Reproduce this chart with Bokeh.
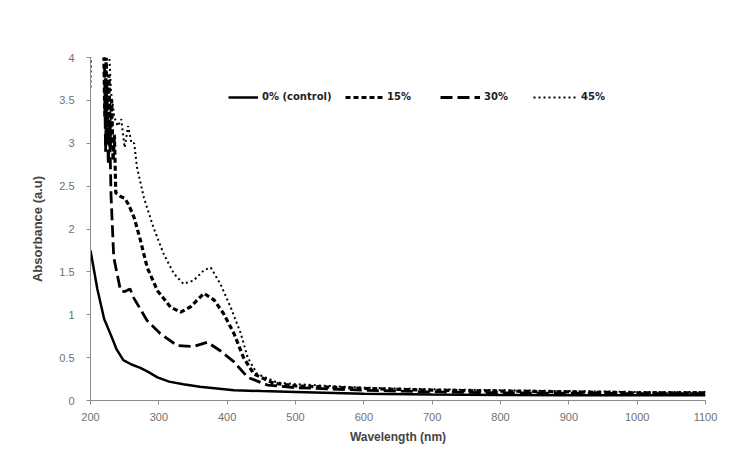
from bokeh.plotting import figure
from bokeh.models import Legend, LegendItem, FixedTicker
from bokeh.embed import file_html
from bokeh.resources import INLINE

# ---- data ----
wl_control = [200, 210, 220, 229, 238, 248, 260, 273, 285, 298, 315, 336, 360, 385, 410, 450, 500, 600, 700, 800, 900, 1000, 1100]
ab_control = [1.75, 1.30, 0.95, 0.78, 0.60, 0.47, 0.42, 0.38, 0.33, 0.27, 0.22, 0.19, 0.16, 0.14, 0.12, 0.11, 0.10, 0.08, 0.07, 0.065, 0.06, 0.06, 0.06]

wl_15 = [219, 221, 223, 225, 227, 229, 231, 233, 235, 237, 244, 250, 256, 264, 273, 283, 298, 317, 332, 346, 366, 381, 395, 410, 424, 439, 468, 500, 600, 700, 800, 900, 1000, 1100]
ab_15 = [4.30, 3.30, 4.00, 3.10, 3.80, 2.95, 3.50, 2.80, 3.10, 2.42, 2.38, 2.36, 2.28, 2.13, 1.87, 1.55, 1.28, 1.09, 1.03, 1.09, 1.25, 1.17, 1.01, 0.78, 0.50, 0.31, 0.20, 0.17, 0.14, 0.12, 0.11, 0.10, 0.09, 0.09]

wl_30 = [220, 222, 224, 226, 228, 230, 234, 244, 250, 258, 263, 283, 302, 327, 351, 371, 390, 410, 430, 459, 500, 600, 700, 800, 900, 1000, 1100]
ab_30 = [4.30, 2.90, 3.70, 2.75, 3.20, 2.40, 1.67, 1.28, 1.27, 1.30, 1.20, 0.93, 0.78, 0.64, 0.63, 0.68, 0.58, 0.45, 0.27, 0.18, 0.15, 0.12, 0.10, 0.09, 0.085, 0.08, 0.08]

wl_45 = [200, 201, 226, 230, 235, 240, 245, 250, 255, 260, 264, 268, 278, 292, 307, 322, 336, 351, 366, 376, 390, 405, 420, 430, 444, 473, 500, 600, 700, 800, 900, 1000, 1100]
ab_45 = [3.65, 4.30, 4.30, 3.60, 3.30, 3.20, 3.28, 2.95, 3.20, 3.00, 3.00, 2.72, 2.37, 2.02, 1.71, 1.48, 1.36, 1.40, 1.52, 1.55, 1.36, 1.09, 0.78, 0.50, 0.31, 0.21, 0.19, 0.15, 0.13, 0.12, 0.11, 0.10, 0.10]

labels = ["0% (control)", "15%", "30%", "45%"]
x_ticks = [200, 300, 400, 500, 600, 700, 800, 900, 1000, 1100]
y_ticks = [0, 0.5, 1, 1.5, 2, 2.5, 3, 3.5, 4]
y_tick_labels = ["0", "0.5", "1", "1.5", "2", "2.5", "3", "3.5", "4"]

W, H = 722, 446
p = figure(width=W, height=H, output_backend="svg", toolbar_location=None,
           x_range=(200, 1100), y_range=(0, 4),
           min_border_left=90, min_border_right=17, min_border_top=57, min_border_bottom=46)
p.outline_line_color = None
p.xgrid.grid_line_color = None
p.ygrid.grid_line_color = None
p.background_fill_color = "white"
p.border_fill_color = "white"

font = "Liberation Sans"
for ax in (p.xaxis[0], p.yaxis[0]):
    ax.axis_line_color = "#8c8c8c"
    ax.major_tick_line_color = "#8c8c8c"
    ax.minor_tick_line_color = None
    ax.major_tick_in = 0
    ax.major_tick_out = 4
    ax.major_label_text_font = font
    ax.major_label_text_font_size = "11px"
    ax.major_label_text_color = "#707070"
    ax.axis_label_text_font = font
    ax.axis_label_text_font_style = "bold"
    ax.axis_label_text_font_size = "12px"
    ax.axis_label_text_color = "#444444"

p.xaxis[0].ticker = FixedTicker(ticks=x_ticks)
p.yaxis[0].ticker = FixedTicker(ticks=y_ticks)
p.yaxis[0].major_label_overrides = {t: s for t, s in zip(y_ticks, y_tick_labels)}
p.xaxis[0].axis_label = "Wavelength (nm)"
p.yaxis[0].axis_label = "Absorbance (a.u)"
p.yaxis[0].axis_label_text_font_size = "13px"
p.xaxis[0].major_label_standoff = 8
p.yaxis[0].major_label_standoff = 12
p.xaxis[0].axis_label_standoff = 6
p.yaxis[0].axis_label_standoff = 11

r0 = p.line(wl_control, ab_control, line_color="black", line_width=2.5)
r1 = p.line(wl_15, ab_15, line_color="black", line_width=3.2, line_dash="5 3")
r2 = p.line(wl_30, ab_30, line_color="black", line_width=2.8, line_dash="12 5")
r3 = p.line(wl_45, ab_45, line_color="black", line_width=2, line_dash="2 3")

# one legend per entry so each entry sits where it does in the reference
entry_x = [138, 255, 350, 443]
glyph_w = [30, 38, 40, 44]
for lab, r, ex, gw in zip(labels, [r0, r1, r2, r3], entry_x, glyph_w):
    lg = Legend(items=[LegendItem(label=lab, renderers=[r])],
                orientation="horizontal", location=(ex, 298),
                background_fill_alpha=0, border_line_color=None,
                label_text_font="DejaVu Sans", label_text_font_style="bold",
                label_text_font_size="10px", label_text_color="#222222",
                glyph_width=gw, glyph_height=10, padding=0,
                label_standoff=4, margin=0)
    p.add_layout(lg, "center")

open("out.html", "w").write(file_html(p, INLINE))
